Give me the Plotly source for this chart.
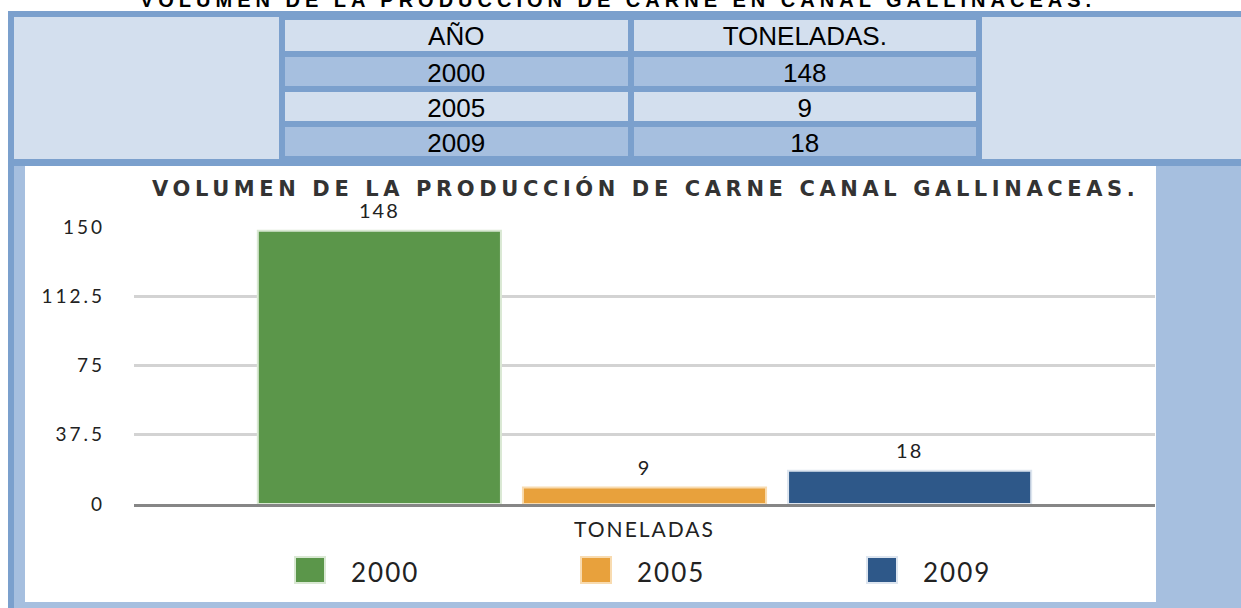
import plotly.graph_objects as go

# data
years = ['2000', '2005', '2009']
tons = [148, 9, 18]
category = 'TONELADAS'
table_header = ['AÑO', 'TONELADAS.']
y_ticks = [0, 37.5, 75, 112.5, 150]

top_title = 'VOLUMEN DE LA PRODUCCION DE CARNE EN CANAL GALLINACEAS.'
chart_title = 'VOLUMEN DE LA PRODUCCIÓN DE CARNE CANAL GALLINACEAS.'

bar_colors = ['#5b964a', '#e8a13c', '#2e5889']
edge_colors = ['#d9e8d3', '#f8dbb0', '#dde5ef']

W, H = 1241, 608
DARK = '#7ba0cd'
MID = '#a6bfdf'
LIGHT = '#d3dfee'


def px(x):
    return x / W


def py(y):
    return 1 - y / H


def spaced(text, spacing):
    return f"<span style='letter-spacing:{spacing}px'>{text}</span>"


def panel(x0, y0, x1, y1, color):
    return dict(type='rect', xref='paper', yref='paper', layer='below',
                x0=px(x0), x1=px(x1), y0=py(y1), y1=py(y0),
                fillcolor=color, line=dict(width=0))


fig = go.Figure()

for year, value, color, edge in zip(years, tons, bar_colors, edge_colors):
    fig.add_trace(go.Bar(
        x=[category], y=[value], name=year,
        marker=dict(color=color, line=dict(color=edge, width=2)),
        texttemplate="<span style='font-size:20px;letter-spacing:2px'>%{y}</span><br>\u00a0",
        textposition='outside', cliponaxis=False,
        textfont=dict(family='Lato', size=6.5, color='#222'),
        showlegend=False,
    ))

fig.add_trace(go.Table(
    domain=dict(x=[px(282), px(979)], y=[py(162), py(17)]),
    columnwidth=[1, 1],
    header=dict(values=table_header, fill_color=LIGHT, height=37, align='center',
                line=dict(color=DARK, width=6),
                font=dict(family='Liberation Sans', size=26, color='black')),
    cells=dict(values=[years, tons], fill_color=[[MID, LIGHT, MID]] * 2, height=35,
               align='center', line=dict(color=DARK, width=6),
               font=dict(family='Liberation Sans', size=26, color='black')),
))

shapes = [
    panel(8, 11, W, H, DARK),
    panel(14, 17, 279, 159, LIGHT),
    panel(982, 17, W, 159, LIGHT),
    panel(14, 166, W, H, MID),
    panel(25, 166, 1156, 602, 'white'),
]

annotations = [dict(
    text=spaced(chart_title, 4.6), xref='paper', yref='paper', x=px(645), y=py(189),
    xanchor='center', yanchor='middle', showarrow=False,
    font=dict(family='DejaVu Sans', size=21, color='#333333', weight='bold'),
)]

# legend drawn as big squares like the original
for i, (year, color, edge) in enumerate(zip(years, bar_colors, edge_colors)):
    cx = 310 + 286 * i
    shapes.append(dict(type='rect', xref='paper', yref='paper',
                       x0=px(cx - 15), x1=px(cx + 15), y0=py(583), y1=py(557),
                       fillcolor=color, line=dict(color=edge, width=2)))
    annotations.append(dict(
        text=spaced(year, 2), xref='paper', yref='paper', x=px(cx + 39), y=py(572),
        xanchor='left', yanchor='middle', showarrow=False,
        font=dict(family='Lato', size=26, color='#222'),
    ))

fig.update_layout(
    width=W, height=H, autosize=False,
    margin=dict(l=0, r=0, t=0, b=0),
    paper_bgcolor='white', plot_bgcolor='rgba(0,0,0,0)',
    barmode='group', bargap=0.221, bargroupgap=0.083,
    # page title, cut off at the top edge like in the original
    title=dict(text=spaced(top_title, 5), x=px(618), y=1,
               xref='paper', yref='container', xanchor='center', yanchor='middle',
               font=dict(family='Liberation Sans', size=20, color='black', weight='bold')),
    xaxis=dict(domain=[px(134), px(1155)], range=[-0.5, 0.5], automargin=False,
               tickvals=[category], ticktext=[spaced(category, 2)],
               showgrid=False, showline=True, linecolor='#868686', linewidth=3,
               ticks='', ticklabelstandoff=5,
               tickfont=dict(family='Lato', size=21, color='#222')),
    yaxis=dict(domain=[py(504), py(227)], range=[0, 150], automargin=False,
               tickvals=y_ticks, ticktext=[spaced(f'{v:g}', 3) for v in y_ticks],
               showgrid=True, gridcolor='#d3d3d3', gridwidth=3,
               zeroline=False, showline=False, ticks='', ticklabelstandoff=28,
               tickfont=dict(family='Lato', size=19, color='#222')),
    shapes=shapes,
    annotations=annotations,
)

fig.write_html("out.html", config={'displayModeBar': False},
               post_script="document.body.style.margin = '0';")
